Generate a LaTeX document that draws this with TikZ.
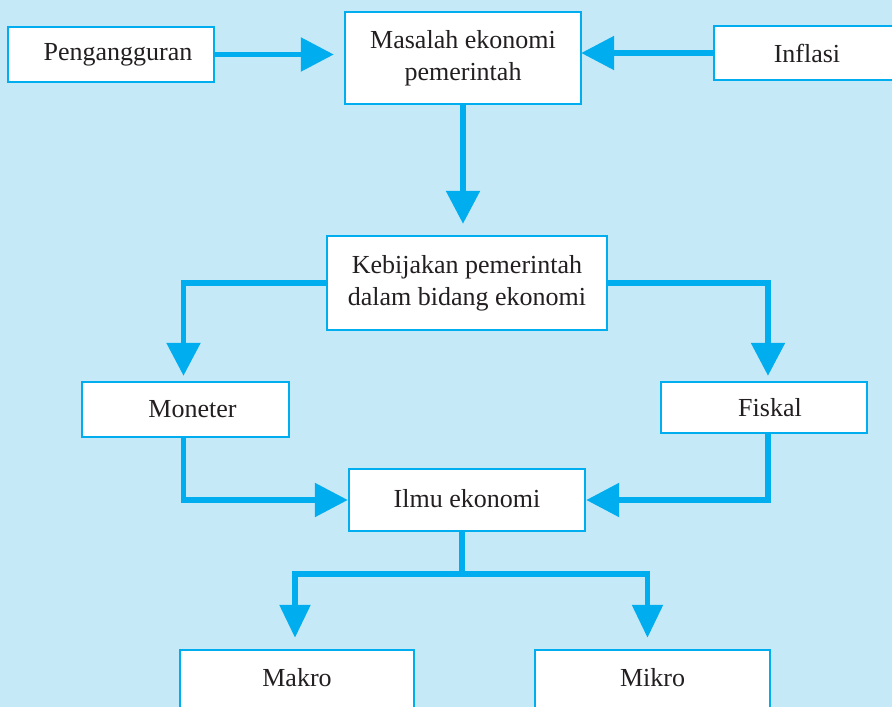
\documentclass[tikz,border=0pt]{standalone}
\usepackage{fontspec}
\setmainfont{Liberation Serif}
\usetikzlibrary{arrows.meta}
\definecolor{bgblue}{HTML}{C6E9F8}
\definecolor{cyanline}{HTML}{00AEEF}
\definecolor{txt}{HTML}{231F20}
\begin{document}
\begin{tikzpicture}[x=1pt,y=-1pt,
  box/.style={draw=cyanline,line width=2.4pt,fill=white,inner sep=0pt,align=center,
    text=txt,font=\fontsize{26}{32}\selectfont},
  conn/.style={draw=cyanline,line width=5.5pt,line join=miter,
    -{Triangle[length=33pt,width=33pt]}},
  plain/.style={draw=cyanline,line width=5.5pt,line join=miter}]
\fill[bgblue] (0,0) rectangle (892,707);
\useasboundingbox (0,0) rectangle (892,707);

\node[box,minimum width=206pt,minimum height=55pt] (peng) at (111,54.5) {\hspace*{14pt}Pengangguran};
\node[box,minimum width=236pt,minimum height=92pt] (masalah) at (463,58) {Masalah ekonomi\\pemerintah};
\node[box,minimum width=186pt,minimum height=54pt] (inflasi) at (807,53) {Inflasi};
\node[box,minimum width=280pt,minimum height=94pt] (kebij) at (467,283) {Kebijakan pemerintah\\dalam bidang ekonomi};
\node[box,minimum width=207pt,minimum height=55pt] (moneter) at (185.5,409.5) {\hspace*{14pt}Moneter};
\node[box,minimum width=206pt,minimum height=51pt] (fiskal) at (764,407.5) {\hspace*{12pt}Fiskal};
\node[box,minimum width=236pt,minimum height=62pt] (ilmu) at (467,500) {\raisebox{4pt}{Ilmu ekonomi}};
\node[box,minimum width=234pt,minimum height=60pt] (makro) at (297,680) {\raisebox{6pt}{Makro}};
\node[box,minimum width=235pt,minimum height=60pt] (mikro) at (652.5,680) {\raisebox{6pt}{Mikro}};

\draw[conn,shorten >=10pt] (peng.east) -- (peng.east -| masalah.west);
\draw[conn,shorten >=-1pt] (inflasi.west) -- (inflasi.west -| masalah.east);
\draw[conn,shorten >=11pt] (masalah.south) -- (masalah.south |- kebij.north);
\draw[conn,shorten >=5pt] (kebij.west) -| ([xshift=-2pt]moneter.north);
\draw[conn,shorten >=5pt] (kebij.east) -| ([xshift=4pt]fiskal.north);
\draw[conn] ([xshift=-2pt]moneter.south) |- (ilmu.west);
\draw[conn] ([xshift=4pt]fiskal.south) |- (ilmu.east);
\coordinate (split) at ([xshift=-5pt,yshift=-42pt]ilmu.south);
\draw[plain] ([xshift=-5pt]ilmu.south) -- (split);
\draw[conn,shorten >=11pt,-{Triangle[length=33pt,width=30pt]}] (split) -| ([xshift=-2pt]makro.north);
\draw[conn,shorten >=11pt,-{Triangle[length=33pt,width=30pt]}] (split) -| ([xshift=-5pt]mikro.north);
\end{tikzpicture}
\end{document}
